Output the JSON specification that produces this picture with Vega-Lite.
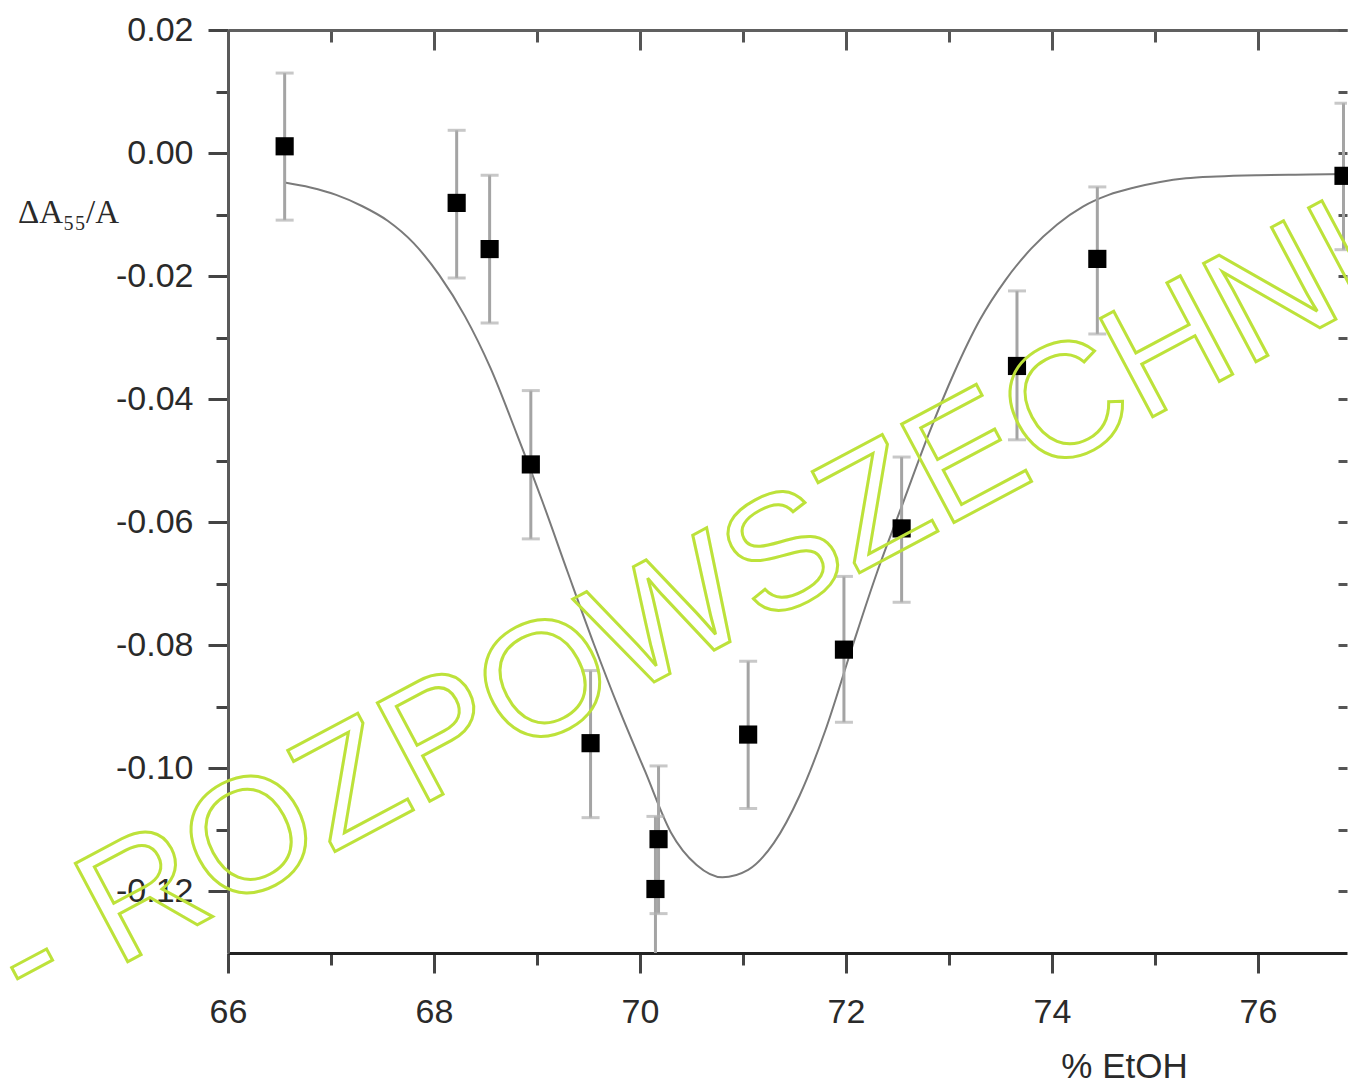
{
  "$schema": "https://vega.github.io/schema/vega-lite/v6.json",
  "width": 1119,
  "height": 923,
  "autosize": {"type": "none"},
  "padding": {"left": 228, "top": 30, "right": 1, "bottom": 132},
  "background": "white",
  "config": {
    "view": {"stroke": null},
    "axis": {
      "labelFont": "Liberation Sans",
      "labelFontSize": 34,
      "labelColor": "#2a2a2a",
      "titleFontWeight": "normal",
      "grid": false
    }
  },
  "datasets": {
    "pts": [
      {"x": 66.55, "y": 0.0011, "lo": -0.0109, "hi": 0.0130},
      {"x": 68.22, "y": -0.0081, "lo": -0.0203, "hi": 0.0037},
      {"x": 68.54, "y": -0.0156, "lo": -0.0276, "hi": -0.0036},
      {"x": 68.94, "y": -0.0506, "lo": -0.0627, "hi": -0.0386},
      {"x": 69.52, "y": -0.0959, "lo": -0.1080, "hi": -0.0841},
      {"x": 70.18, "y": -0.1115, "lo": -0.1236, "hi": -0.0996},
      {"x": 70.15, "y": -0.1196, "lo": -0.1320, "hi": -0.1078},
      {"x": 71.05, "y": -0.0945, "lo": -0.1065, "hi": -0.0826},
      {"x": 71.98, "y": -0.0807, "lo": -0.0925, "hi": -0.0688},
      {"x": 72.54, "y": -0.0610, "lo": -0.0730, "hi": -0.0494},
      {"x": 73.66, "y": -0.0346, "lo": -0.0466, "hi": -0.0224},
      {"x": 74.44, "y": -0.0172, "lo": -0.0294, "hi": -0.0055},
      {"x": 76.83, "y": -0.0037, "lo": -0.0157, "hi": 0.0081}
    ],
    "fit": [
      {"x": 66.55, "y": -0.0048},
      {"x": 66.80, "y": -0.0056},
      {"x": 67.05, "y": -0.0068},
      {"x": 67.30, "y": -0.0086},
      {"x": 67.55, "y": -0.0110},
      {"x": 67.80, "y": -0.0146},
      {"x": 68.05, "y": -0.0198},
      {"x": 68.30, "y": -0.0265},
      {"x": 68.55, "y": -0.0350},
      {"x": 68.80, "y": -0.0455},
      {"x": 69.05, "y": -0.0565},
      {"x": 69.30, "y": -0.0682},
      {"x": 69.55, "y": -0.0797},
      {"x": 69.80, "y": -0.0905},
      {"x": 70.05, "y": -0.1005},
      {"x": 70.30, "y": -0.1104},
      {"x": 70.55, "y": -0.1157},
      {"x": 70.80, "y": -0.1177},
      {"x": 71.05, "y": -0.1165},
      {"x": 71.30, "y": -0.1121},
      {"x": 71.55, "y": -0.1044},
      {"x": 71.80, "y": -0.0938},
      {"x": 72.05, "y": -0.0808},
      {"x": 72.30, "y": -0.0682},
      {"x": 72.55, "y": -0.0570},
      {"x": 72.80, "y": -0.0458},
      {"x": 73.05, "y": -0.0357},
      {"x": 73.30, "y": -0.0271},
      {"x": 73.55, "y": -0.0206},
      {"x": 73.80, "y": -0.0155},
      {"x": 74.05, "y": -0.0116},
      {"x": 74.30, "y": -0.0087},
      {"x": 74.55, "y": -0.0068},
      {"x": 74.80, "y": -0.0056},
      {"x": 75.05, "y": -0.0047},
      {"x": 75.30, "y": -0.0041},
      {"x": 75.60, "y": -0.0038},
      {"x": 76.00, "y": -0.0036},
      {"x": 76.50, "y": -0.0035},
      {"x": 76.86, "y": -0.0034}
    ],
    "wm": [
      {"label": "- ROZPOWSZECHNIANIA", "x": 64.064, "y": -0.1400}
    ]
  },
  "layer": [
    {
      "data": {"name": "fit"},
      "mark": {"type": "line", "color": "#7a7a7a", "strokeWidth": 2, "interpolate": "monotone", "clip": true},
      "encoding": {
        "x": {
          "field": "x", "type": "quantitative",
          "scale": {"domain": [66, 76.864], "nice": false, "zero": false},
          "axis": {
            "orient": "bottom",
            "values": [66, 67, 68, 69, 70, 71, 72, 73, 74, 75, 76],
            "labelExpr": "datum.value % 2 === 0 ? datum.label : ''",
            "domainColor": "#222222",
            "domainWidth": 3,
            "tickColor": "#444444",
            "tickWidth": 3,
            "tickSize": {"condition": {"test": "datum.value % 2 === 0", "value": 20}, "value": 12},
            "labelPadding": 22,
            "labelFlush": false,
            "title": "% EtOH",
            "titleFont": "Liberation Sans",
            "titleFontSize": 35,
            "titleColor": "#2a2a2a",
            "titleX": 896,
            "titleY": 124,
            "titleAlign": "center",
            "titleBaseline": "alphabetic"
          }
        },
        "y": {
          "field": "y", "type": "quantitative",
          "scale": {"domain": [-0.13, 0.02], "nice": false, "zero": false},
          "axis": {
            "orient": "left",
            "values": [-0.12, -0.11, -0.1, -0.09, -0.08, -0.07, -0.06, -0.05, -0.04, -0.03, -0.02, -0.01, 0, 0.01, 0.02],
            "labelExpr": "round(datum.value * 100) % 2 === 0 ? replace(format(datum.value, '.2f'), '\u2212', '-') : ''",
            "domainColor": "#5a5a5a",
            "domainWidth": 3,
            "tickColor": "#444444",
            "tickWidth": 3,
            "tickSize": {"condition": {"test": "round(datum.value * 100) % 2 === 0", "value": 20}, "value": 12},
            "labelPadding": 15,
            "labelFlush": false,
            "title": "\u0394A\u2085\u2085/A",
            "titleFont": "Liberation Serif",
            "titleFontSize": 33,
            "titleColor": "#2a2a2a",
            "titleAngle": 0,
            "titleX": -160,
            "titleY": 182,
            "titleAlign": "center",
            "titleBaseline": "middle"
          }
        }
      }
    },
    {
      "data": {"name": "pts"},
      "mark": {"type": "rule", "color": "#a4a4a4", "strokeWidth": 3, "clip": true},
      "encoding": {
        "x": {"field": "x", "type": "quantitative", "axis": null},
        "y": {"field": "lo", "type": "quantitative", "axis": null},
        "y2": {"field": "hi"}
      }
    },
    {
      "data": {"name": "pts"},
      "mark": {"type": "tick", "orient": "horizontal", "color": "#b0b0b0", "size": 18, "thickness": 3, "clip": true},
      "encoding": {
        "x": {"field": "x", "type": "quantitative", "axis": null},
        "y": {"field": "lo", "type": "quantitative", "axis": null}
      }
    },
    {
      "data": {"name": "pts"},
      "mark": {"type": "tick", "orient": "horizontal", "color": "#b0b0b0", "size": 18, "thickness": 3, "clip": true},
      "encoding": {
        "x": {"field": "x", "type": "quantitative", "axis": null},
        "y": {"field": "hi", "type": "quantitative", "axis": null}
      }
    },
    {
      "data": {"name": "pts"},
      "mark": {"type": "point", "shape": "square", "filled": true, "color": "#000000", "opacity": 1, "size": 330},
      "encoding": {
        "x": {
          "field": "x", "type": "quantitative",
          "axis": {
            "orient": "top",
            "values": [66, 67, 68, 69, 70, 71, 72, 73, 74, 75, 76],
            "labels": false,
            "title": null,
            "domainColor": "#606060",
            "domainWidth": 3,
            "tickColor": "#555555",
            "tickWidth": 3,
            "tickSize": {"condition": {"test": "datum.value % 2 === 0", "value": -20}, "value": -12}
          }
        },
        "y": {
          "field": "y", "type": "quantitative",
          "axis": {
            "orient": "right",
            "values": [-0.12, -0.11, -0.1, -0.09, -0.08, -0.07, -0.06, -0.05, -0.04, -0.03, -0.02, -0.01, 0, 0.01, 0.02],
            "labels": false,
            "title": null,
            "domain": false,
            "tickColor": "#555555",
            "tickWidth": 3,
            "tickSize": -9
          }
        }
      }
    },
    {
      "data": {"name": "wm"},
      "mark": {
        "type": "text",
        "font": "Liberation Sans",
        "fontSize": 162,
        "angle": -28,
        "align": "left",
        "baseline": "alphabetic",
        "fill": "transparent",
        "stroke": "#bde23a",
        "strokeWidth": 3,
        "clip": false
      },
      "encoding": {
        "x": {"field": "x", "type": "quantitative", "axis": null},
        "y": {"field": "y", "type": "quantitative", "axis": null},
        "text": {"field": "label"}
      }
    }
  ],
  "resolve": {"axis": {"x": "independent", "y": "independent"}}
}
